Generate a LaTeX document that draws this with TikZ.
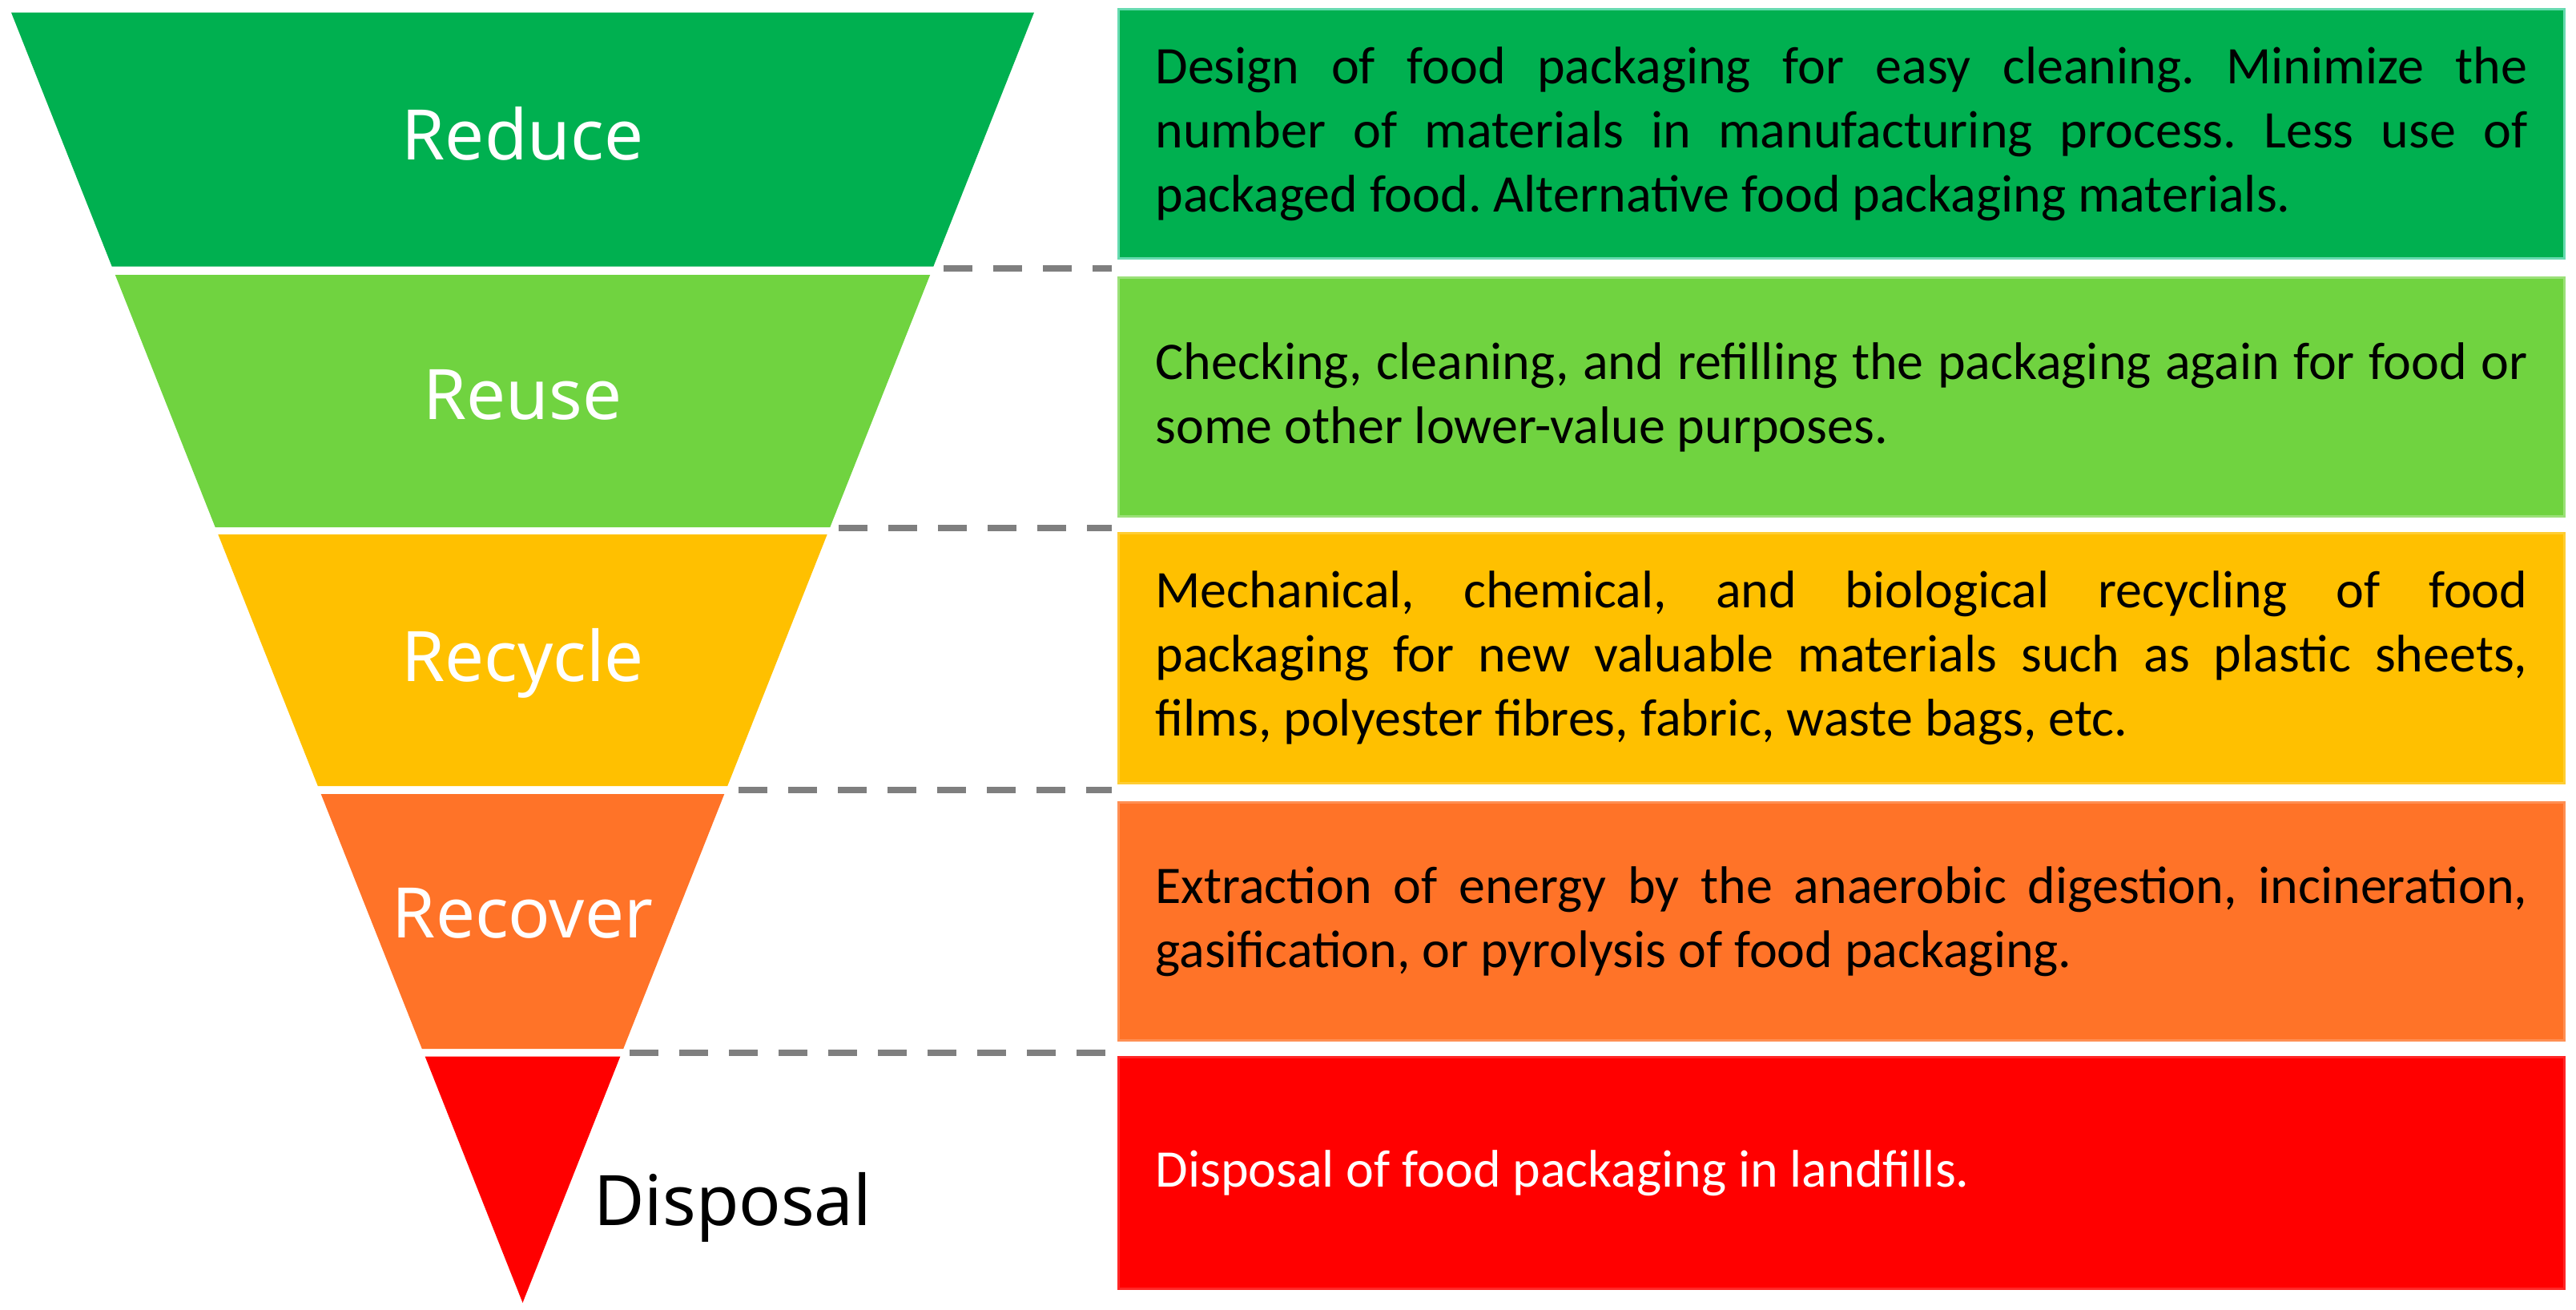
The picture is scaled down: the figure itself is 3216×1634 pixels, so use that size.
\documentclass[tikz,border=0pt]{standalone}
\usepackage{fontspec}
\setmainfont{Carlito}
\newfontfamily\levelfont{Noto Sans}
\definecolor{reducegreen}{HTML}{00B050}
\definecolor{reusegreen}{HTML}{70D340}
\definecolor{recycleyellow}{HTML}{FFC000}
\definecolor{recoverorange}{HTML}{FF7328}
\definecolor{disposalred}{HTML}{FF0000}
\definecolor{dashgray}{HTML}{7F7F7F}
\frenchspacing
\hyphenpenalty=10000
\exhyphenpenalty=10000

\begin{document}
\begin{tikzpicture}[x=0.5pt,y=-0.5pt,
	level/.style={font=\levelfont\fontsize{43.5}{50}\selectfont, text=white, anchor=base, inner sep=0pt},
	infobox/.style={anchor=north west, text width=856.5pt, inner xsep=23pt, inner ysep=0pt, align=justify, line width=1.5pt, font=\fontsize{33}{40}\selectfont},
	guide/.style={draw=dashgray, line width=4pt, dash pattern=on 18pt off 13pt}]
		\fill[white] (0,0) rectangle (3216,1634);
		\useasboundingbox (0,0) rectangle (3216,1634);
		% funnel
		\fill[reducegreen] (14,15.6) -- (1291,15.6) -- (1165.3,332.6) -- (139.7,332.6) -- cycle;
		\fill[reusegreen] (143.8,343) -- (1161.2,343) -- (1036.3,658) -- (268.7,658) -- cycle;
		\fill[recycleyellow] (272.3,667) -- (1032.7,667) -- (908.2,981) -- (396.8,981) -- cycle;
		\fill[recoverorange] (400.7,991) -- (904.3,991) -- (778.2,1309) -- (526.8,1309) -- cycle;
		\fill[disposalred] (530.6,1318.5) -- (774.4,1318.5) -- (652.5,1626) -- cycle;
		\node[level] (reduce) at (652.5,199) {Reduce};
		\node[level] (reuse) at (652.5,523) {Reuse};
		\node[level] (recycle) at (652.5,850) {Recycle};
		\node[level] (recover) at (652.5,1170) {Recover};
		\node[level, text=black, anchor=base west] (disposal) at (741,1529) {Disposal};
		% boxes
		\node[infobox, fill=reducegreen, draw=reducegreen!75!cyan!60!white, minimum height=155.5pt] (reducebox) at (1395,10) {Design of food packaging for easy cleaning. Minimize the\linebreak number of materials in manufacturing process. Less use of\linebreak packaged food. Alternative food packaging materials.};
		\node[infobox, fill=reusegreen, draw=reusegreen!70!white, minimum height=149pt] (reusebox) at (1395,345) {Checking, cleaning, and refilling the packaging again for food or\linebreak some other lower-value purposes.};
		\node[infobox, fill=recycleyellow, draw=recycleyellow!80!white, minimum height=156pt] (recyclebox) at (1395,664) {Mechanical, chemical, and biological recycling of food\linebreak packaging for new valuable materials such as plastic sheets,\linebreak films, polyester fibres, fabric, waste bags, etc.};
		\node[infobox, fill=recoverorange, draw=recoverorange!80!white, minimum height=148.5pt] (recoverbox) at (1395,1000) {Extraction of energy by the anaerobic digestion, incineration,\linebreak gasification, or pyrolysis of food packaging.};
		\node[infobox, fill=disposalred, draw=disposalred!85!white, text=white, minimum height=144.5pt] (disposalbox) at (1395,1318) {Disposal of food packaging in landfills.};
		% dashed guides
		\coordinate (g1) at (1178,335);
		\coordinate (h1) at (1388,335);
		\coordinate (g2) at (1047,659);
		\coordinate (h2) at (1388,659);
		\coordinate (g3) at (922,986);
		\coordinate (h3) at (1388,986);
		\coordinate (g4) at (786,1313.5);
		\coordinate (h4) at (1388,1313.5);
		\draw[guide] (g1) -- (h1);
		\draw[guide] (g2) -- (h2);
		\draw[guide] (g3) -- (h3);
		\draw[guide] (g4) -- (h4);
	\end{tikzpicture}
\end{document}
